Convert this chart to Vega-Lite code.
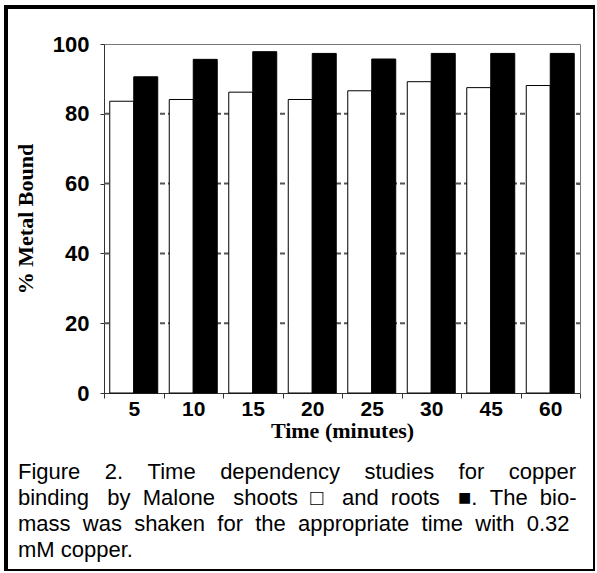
{
  "$schema": "https://vega.github.io/schema/vega-lite/v6.json",
  "width": 589,
  "height": 564,
  "autosize": {"type": "none"},
  "padding": {"left": 6, "top": 7, "right": 0, "bottom": 0},
  "background": "white",
  "config": {
    "view": {"stroke": "black", "strokeWidth": 4, "fill": "white"},
    "axis": {"labelColor": "black", "titleColor": "black"}
  },
  "title": {
    "text": [
      "Figure \u00a0\u00a0\u00a02. \u00a0\u00a0\u00a0Time \u00a0\u00a0\u00a0dependency \u00a0\u00a0\u00a0studies \u00a0\u00a0\u00a0for \u00a0\u00a0\u00a0copper",
      "binding \u00a0\u00a0by \u00a0Malone \u00a0\u00a0shoots \u00a0□ \u00a0\u00a0and \u00a0roots \u00a0\u00a0■. \u00a0The \u00a0bio-",
      "mass \u00a0was \u00a0shaken \u00a0for \u00a0the \u00a0appropriate \u00a0time \u00a0with \u00a00.32",
      "mM copper."
    ],
    "orient": "bottom",
    "anchor": "start",
    "frame": "group",
    "offset": -109,
    "dx": 12,
    "font": "Liberation Sans",
    "fontSize": 22,
    "fontWeight": "normal",
    "lineHeight": 26,
    "color": "black"
  },
  "datasets": {
    "binding": [
      {"time": "5", "part": "shoots", "bound": 83.6},
      {"time": "5", "part": "roots", "bound": 90.6},
      {"time": "10", "part": "shoots", "bound": 84.1},
      {"time": "10", "part": "roots", "bound": 95.6},
      {"time": "15", "part": "shoots", "bound": 86.2},
      {"time": "15", "part": "roots", "bound": 97.8},
      {"time": "20", "part": "shoots", "bound": 84.1},
      {"time": "20", "part": "roots", "bound": 97.3},
      {"time": "25", "part": "shoots", "bound": 86.6},
      {"time": "25", "part": "roots", "bound": 95.7},
      {"time": "30", "part": "shoots", "bound": 89.2},
      {"time": "30", "part": "roots", "bound": 97.3},
      {"time": "45", "part": "shoots", "bound": 87.5},
      {"time": "45", "part": "roots", "bound": 97.3},
      {"time": "60", "part": "shoots", "bound": 88.1},
      {"time": "60", "part": "roots", "bound": 97.3}
    ],
    "grid": [
      {"g": 20, "a": 0, "b": 1},
      {"g": 40, "a": 0, "b": 1},
      {"g": 60, "a": 0, "b": 1},
      {"g": 80, "a": 0, "b": 1}
    ]
  },
  "layer": [
    {
      "data": {"name": "grid"},
      "mark": {"type": "rule", "color": "#555555", "strokeWidth": 2, "strokeDash": [5, 3]},
      "encoding": {
        "x": {"field": "a", "type": "quantitative", "scale": {"domain": [0, 1], "range": [98, 574], "nice": false, "zero": false}, "axis": null},
        "x2": {"field": "b"},
        "y": {"field": "g", "type": "quantitative", "scale": {"domain": [0, 100], "range": [386, 37], "nice": false}, "axis": null}
      }
    },
    {
      "data": {"name": "binding"},
      "mark": {"type": "bar", "stroke": "black", "strokeWidth": 1},
      "encoding": {
        "x": {
          "field": "time", "type": "nominal",
          "scale": {"domain": ["5", "10", "15", "20", "25", "30", "45", "60"], "range": [98, 574], "paddingInner": 0, "paddingOuter": 0},
          "axis": {
            "orient": "bottom", "offset": -178, "tickBand": "extent", "tickSize": 5,
            "labelAngle": 0, "labelPadding": 0, "labelFont": "Liberation Sans",
            "labelFontSize": 21, "labelFontWeight": "bold",
            "title": "Time (minutes)", "titleFont": "Liberation Serif", "titleFontSize": 22,
            "titleFontWeight": "bold", "titlePadding": 1,
            "domainColor": "#333", "tickColor": "#333", "grid": false
          }
        },
        "xOffset": {
          "field": "part", "type": "nominal", "sort": ["shoots", "roots"],
          "scale": {"paddingInner": 0, "paddingOuter": 0.24}
        },
        "y": {
          "field": "bound", "type": "quantitative",
          "scale": {"domain": [0, 100], "range": [386, 37], "nice": false},
          "axis": {
            "orient": "left", "offset": -98, "values": [0, 20, 40, 60, 80, 100],
            "grid": false,
            "domainColor": "#333", "tickColor": "#333", "tickSize": 4, "labelPadding": 11,
            "labelFont": "Liberation Sans", "labelFontSize": 22, "labelFontWeight": "bold",
            "title": "% Metal Bound", "titleFont": "Liberation Serif", "titleFontSize": 22,
            "titleFontWeight": "bold", "titlePadding": 15
          }
        },
        "fill": {
          "field": "part", "type": "nominal",
          "scale": {"domain": ["shoots", "roots"], "range": ["white", "black"]},
          "legend": null
        }
      }
    },
    {
      "data": {"name": "binding"},
      "mark": {"type": "bar", "opacity": 0},
      "encoding": {
        "x": {
          "field": "time", "type": "nominal",
          "scale": {"domain": ["5", "10", "15", "20", "25", "30", "45", "60"], "range": [98, 574], "paddingInner": 0, "paddingOuter": 0},
          "axis": {"orient": "top", "offset": -37, "ticks": false, "labels": false, "title": null, "domainColor": "#777", "grid": false}
        },
        "xOffset": {
          "field": "part", "type": "nominal", "sort": ["shoots", "roots"],
          "scale": {"paddingInner": 0, "paddingOuter": 0.24}
        },
        "y": {
          "field": "bound", "type": "quantitative",
          "scale": {"domain": [0, 100], "range": [386, 37], "nice": false},
          "axis": {"orient": "right", "offset": -15, "labels": false, "title": null, "tickSize": -4, "values": [20, 40, 60, 80], "domainColor": "#777", "tickColor": "#555", "grid": false}
        }
      }
    }
  ],
  "resolve": {"scale": {"x": "independent"}, "axis": {"x": "independent", "y": "independent"}}
}
